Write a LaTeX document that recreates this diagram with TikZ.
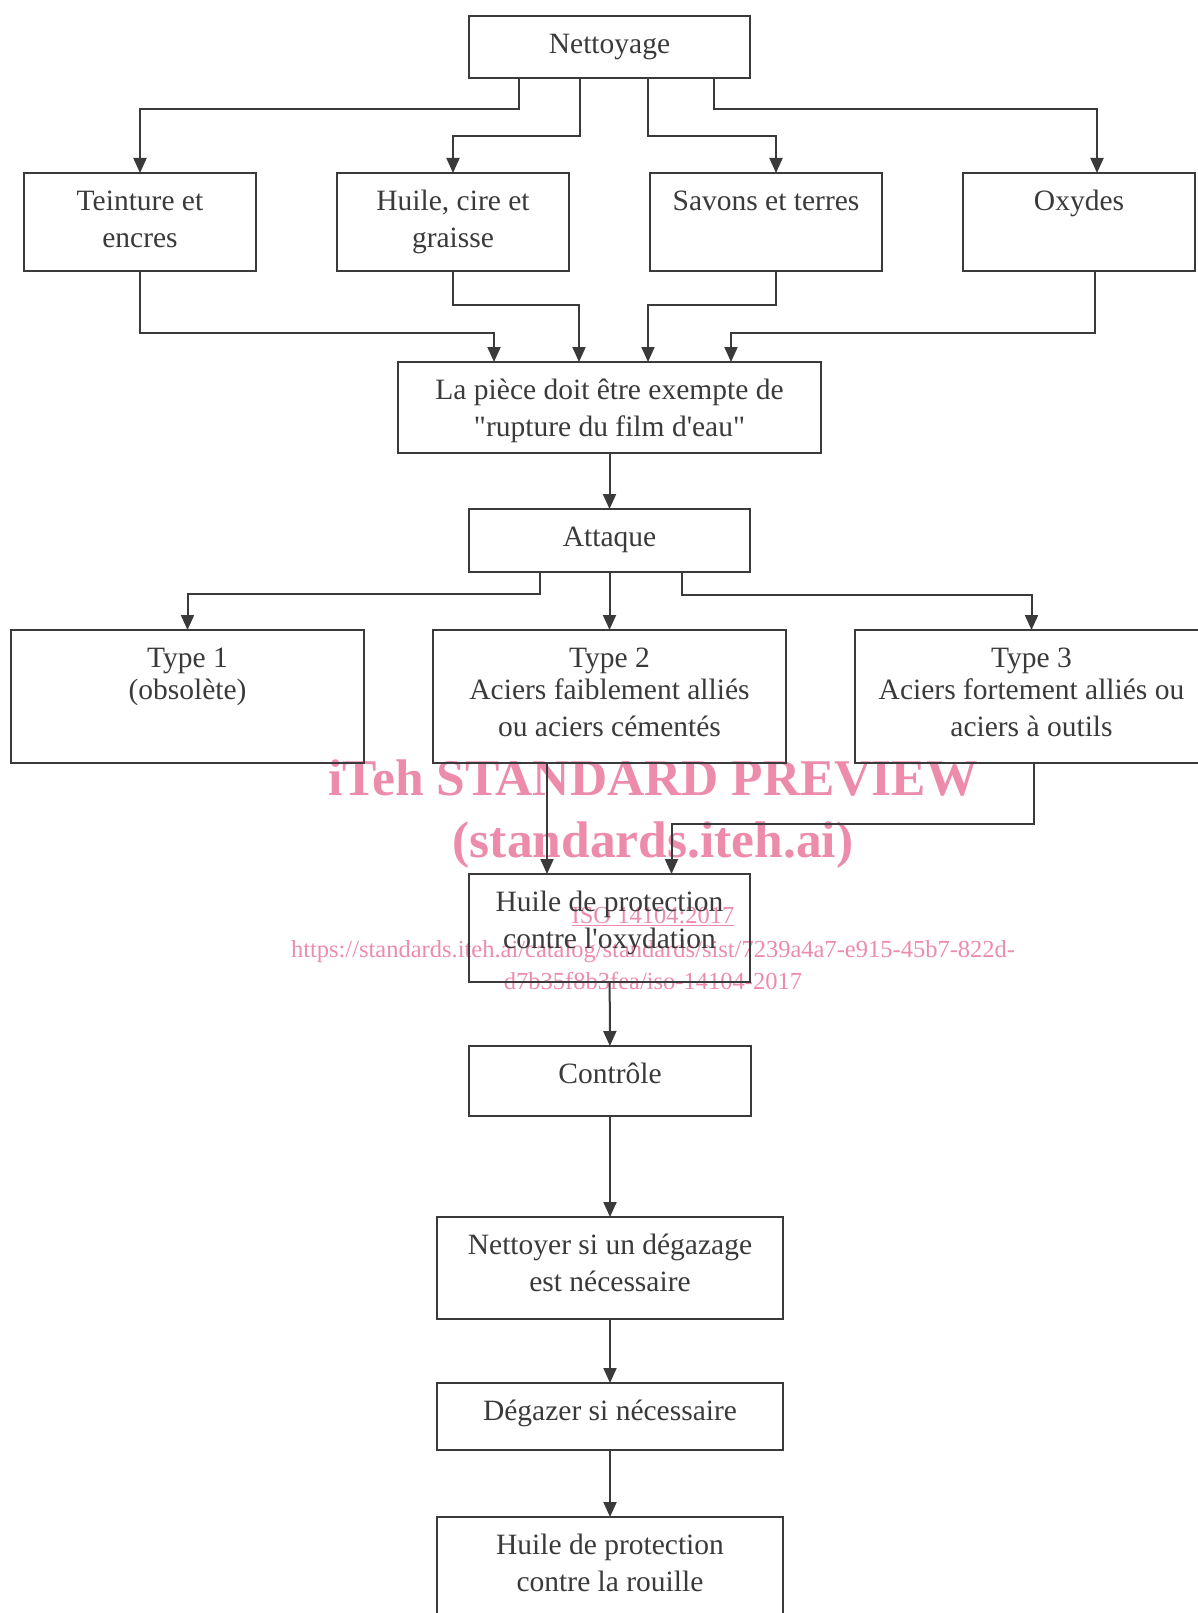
\documentclass[tikz,border=0pt]{standalone}
\usepackage{fontspec}
\setmainfont[Ligatures=TeXOff]{Liberation Serif}
\usetikzlibrary{arrows.meta}
\definecolor{ink}{HTML}{3A3A3A}
\definecolor{wmpink}{RGB}{236,140,170}
% box text: width, height, lines (first baseline fixed below the top)
\newcommand{\boxtxt}[3]{\parbox[c][#2][t]{#1}{\centering\rule{0pt}{37.5pt}#3}}
\tikzset{
  stepbox/.style={draw=ink, line width=2.3pt, inner sep=0pt, outer sep=0pt,
    anchor=north west, text=ink, font=\fontsize{29.5}{36.6}\selectfont},
  link/.style={draw=ink, line width=2pt, -{Triangle[width=13pt,length=15pt]}},
  wmbig/.style={text=wmpink, inner sep=0pt, anchor=base,
    font=\fontsize{51.5}{60}\selectfont\bfseries},
  wmsmall/.style={text=wmpink, inner sep=0pt, anchor=base,
    font=\fontsize{24.5}{30}\selectfont}
}
\begin{document}
\begin{tikzpicture}[x=1pt, y=-1pt]
\useasboundingbox (0,0) rectangle (1198,1613);
\clip (0,0) rectangle (1198,1613);

% watermark
\node[wmbig] (wm1) at (653,795) {iTeh STANDARD PREVIEW};
\node[wmbig] (wm2) at (653,857) {(standards.iteh.ai)};
\node[wmsmall] (wm3) at (653,923) {\underline{ISO 14104:2017}};
\node[wmsmall] (wm4) at (653,957) {https://standards.iteh.ai/catalog/standards/sist/7239a4a7-e915-45b7-822d-};
\node[wmsmall] (wm5) at (653,989) {d7b35f8b3fea/iso-14104-2017};

% boxes
\node[stepbox] (clean) at (469,16) {\boxtxt{281pt}{62pt}{Nettoyage}};
\node[stepbox] (dye) at (24,173) {\boxtxt{232pt}{98pt}{Teinture et\\encres}};
\node[stepbox] (oil) at (337,173) {\boxtxt{232pt}{98pt}{Huile, cire et\\graisse}};
\node[stepbox] (soap) at (650,173) {\boxtxt{232pt}{98pt}{Savons et terres}};
\node[stepbox] (oxide) at (963,173) {\boxtxt{232pt}{98pt}{Oxydes}};
\node[stepbox] (water) at (398,362) {\boxtxt{423pt}{91pt}{La pièce doit être exempte de\\"rupture du film d'eau"}};
\node[stepbox] (etch) at (469,509) {\boxtxt{281pt}{63pt}{Attaque}};
\node[stepbox] (t1) at (11,630) {\boxtxt{353pt}{133pt}{Type 1\\[-4.6pt](obsolète)}};
\node[stepbox] (t2) at (433,630) {\boxtxt{353pt}{133pt}{Type 2\\[-4.6pt]Aciers faiblement alliés\\ou aciers cémentés}};
\node[stepbox] (t3) at (855,630) {\boxtxt{353pt}{133pt}{Type 3\\[-4.6pt]Aciers fortement alliés ou\\aciers à outils}};
\node[stepbox] (oxprot) at (469,874) {\boxtxt{281pt}{108pt}{Huile de protection\\contre l'oxydation}};
\node[stepbox] (ctrl) at (469,1046) {\boxtxt{282pt}{70pt}{Contrôle}};
\node[stepbox] (reclean) at (437,1217) {\boxtxt{346pt}{102pt}{Nettoyer si un dégazage\\est nécessaire}};
\node[stepbox] (degas) at (437,1383) {\boxtxt{346pt}{67pt}{Dégazer si nécessaire}};
\node[stepbox] (rust) at (437,1517) {\boxtxt{346pt}{130pt}{Huile de protection\\contre la rouille}};

% connectors
\draw[link] (clean.south -| 519,0) -- (519,109) -| (dye.north);
\draw[link] (clean.south -| 580,0) -- (580,136) -| (oil.north);
\draw[link] (clean.south -| 648,0) -- (648,136) -| (soap.north -| 776,0);
\draw[link] (clean.south -| 714,0) -- (714,109) -| (oxide.north -| 1097,0);

\draw[link] (dye.south) -- (140,333) -| (water.north -| 494,0);
\draw[link] (oil.south) -- (453,305) -| (water.north -| 579,0);
\draw[link] (soap.south -| 776,0) -- (776,305) -| (water.north -| 648,0);
\draw[link] (oxide.south -| 1095,0) -- (1095,333) -| (water.north -| 731,0);

\draw[link] (water) -- (etch);
\draw[link] (etch.south -| 540,0) -- (540,594) -| (t1.north);
\draw[link] (etch) -- (t2);
\draw[link] (etch.south -| 682,0) -- (682,595) -| (t3.north);

\draw[link] (t2.south -| 547,0) -- (oxprot.north -| 547,0);
\draw[link] (t3.south -| 1034,0) -- (1034,824) -| (oxprot.north -| 671.5,0);

\draw[link] (oxprot) -- (ctrl);
\draw[link] (ctrl) -- (reclean);
\draw[link] (reclean) -- (degas);
\draw[link] (degas) -- (rust);
\end{tikzpicture}
\end{document}
